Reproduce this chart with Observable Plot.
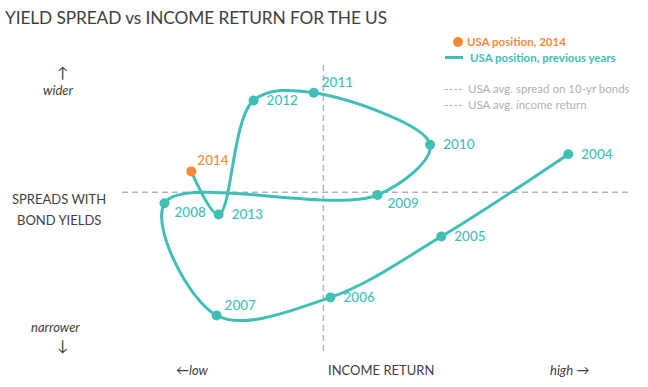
<!DOCTYPE html>
<html><head><meta charset="utf-8">
<script src="https://cdn.jsdelivr.net/npm/d3@7"></script>
<script src="https://cdn.jsdelivr.net/npm/@observablehq/plot@0.6"></script>
<style>
body{margin:0;background:#fff;font-family:Lato,"Open Sans",sans-serif;}
#wrap{position:relative;width:648px;height:387px;overflow:hidden;}
#title{height:36px;font-size:17.3px;color:#404040;padding-left:5px;line-height:36px;letter-spacing:-0.1px;}
.a{position:absolute;color:#404040;font-size:13px;white-space:nowrap;line-height:16px;}
.i{font-style:italic;}
.lg{position:absolute;font-size:11.5px;font-weight:bold;white-space:nowrap;}
.lgg{position:absolute;font-size:11.5px;color:#b0b0b0;white-space:nowrap;}
</style></head>
<body>
<div id="wrap">
<div id="title">YIELD SPREAD vs INCOME RETURN FOR THE US</div>
<div id="chart"></div>
</div>
<script>
// Years and positions (relative units: income return, yield spread)
const years = [2004, 2005, 2006, 2007, 2008, 2009, 2010, 2011, 2012, 2013, 2014];
const incomeReturn = [88.1, 63.0, 41.1, 18.6, 8.3, 50.4, 60.8, 37.8, 25.9, 19.0, 13.6];
const yieldSpread = [69.1, 40.4, 19.2, 12.9, 52.0, 54.9, 72.4, 90.5, 87.8, 48.1, 63.1];
const avgIncomeReturn = 39.7;
const avgSpread = 55.8;
const currentYear = 2014;

const data = years.map((y, i) => ({year: y, label: String(y), x: incomeReturn[i], y: yieldSpread[i]}));
const teal = "#40bfb5", orange = "#f48a36", grey = "#b4b4b4";

const rightLabels = [2004, 2005, 2006, 2010, 2012, 2013];
const aboveLabels = [2007, 2011];
const belowLabels = [2008, 2009];

const labelStyle = {x: "x", y: "y", text: "label", textAnchor: "start", fill: teal, fontSize: 13.5, fontWeight: 500};
const plot = Plot.plot({
  width: 648, height: 351,
  marginLeft: 122, marginRight: 20, marginTop: 29, marginBottom: 35,
  x: {domain: [0, 100], axis: null},
  y: {domain: [0, 100], axis: null},
  style: {fontFamily: "Lato, 'Open Sans', sans-serif", background: "white"},
  marks: [
    Plot.ruleY([avgSpread], {stroke: grey, strokeWidth: 1.5, strokeDasharray: "6,4"}),
    Plot.ruleX([avgIncomeReturn], {stroke: grey, strokeWidth: 1.5, strokeDasharray: "6,4"}),
    Plot.line(data, {x: "x", y: "y", curve: "catmull-rom", stroke: teal, strokeWidth: 3}),
    Plot.dot(data, {x: "x", y: "y", r: 5, fill: d => d.year === currentYear ? orange : teal, stroke: "none"}),
    Plot.text(data.filter(d => rightLabels.includes(d.year)), {...labelStyle, dx: 13}),
    Plot.text(data.filter(d => aboveLabels.includes(d.year)), {...labelStyle, dx: 8, dy: -10}),
    Plot.text(data.filter(d => belowLabels.includes(d.year)), {...labelStyle, dx: 10, dy: 9}),
    Plot.text(data.filter(d => d.year === currentYear), {...labelStyle, fill: orange, dx: 6, dy: -11})
  ]
});
document.getElementById("chart").appendChild(plot);

const wrap = document.getElementById("wrap");
function add(cls, html, left, top, extra) {
  const d = document.createElement("div");
  d.className = cls; d.innerHTML = html;
  d.style.left = left + "px"; d.style.top = top + "px";
  if (extra) Object.assign(d.style, extra);
  wrap.appendChild(d);
}
// axis annotations
add("a", "&#8593;", 57, 65, {fontSize: "15px", lineHeight: "14px"});
add("a i", "wider", 43, 82);
add("a", "SPREADS WITH", 12, 191);
add("a", "BOND YIELDS", 17, 212);
add("a i", "narrower", 31, 320, {lineHeight: "15px"});
add("a", "&#8595;", 57, 339, {fontSize: "15px", lineHeight: "13px"});
add("a", "&#8592;<span class='i'>low</span>", 176, 362);
add("a", "INCOME RETURN", 328, 362);
add("a", "<span class='i'>high</span> &#8594;", 550, 362);
// legend
add("lg", "<span style='display:inline-block;width:10px;height:10px;border-radius:5px;background:" + orange + ";vertical-align:-1px;margin-right:4px'></span>USA position, 2014", 453, 35, {color: orange});
add("lg", "<span style='display:inline-block;width:18px;height:3px;background:" + teal + ";vertical-align:3px;margin-right:7px'></span>USA position, previous years", 445, 51, {color: teal});
add("lgg", "<span style='display:inline-block;width:17px;border-top:1.5px dashed " + grey + ";vertical-align:3px;margin-right:6px'></span>USA avg. spread on 10-yr bonds", 445, 82);
add("lgg", "<span style='display:inline-block;width:17px;border-top:1.5px dashed " + grey + ";vertical-align:3px;margin-right:6px'></span>USA avg. income return", 445, 98);
</script>
</body></html>
